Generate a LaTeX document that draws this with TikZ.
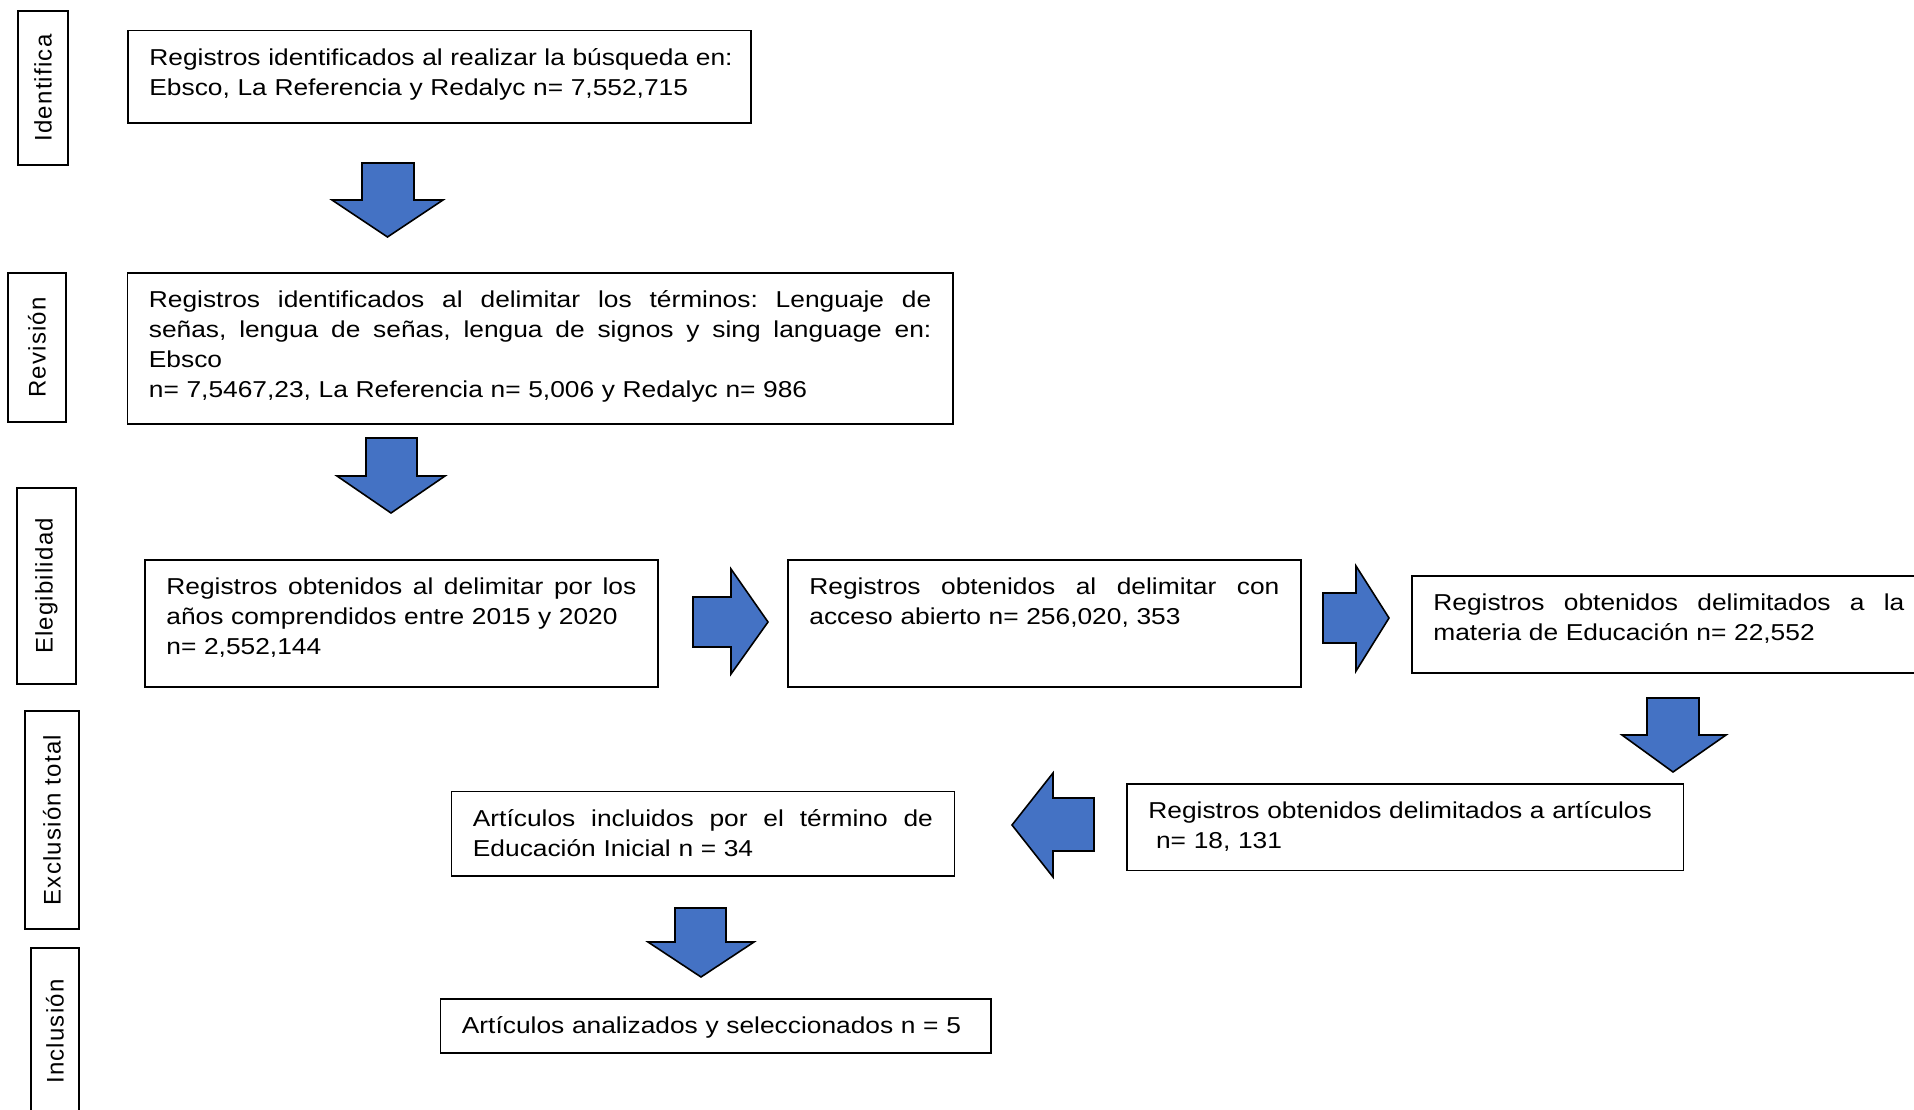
\documentclass[tikz,border=0pt]{standalone}
\usepackage{fontspec}
\setmainfont{Liberation Sans}[FakeStretch=1.145]
\newfontfamily\sidefont{Liberation Sans}[LetterSpace=5]
\definecolor{arrowblue}{HTML}{4472C4}
\frenchspacing
\newcommand{\jline}[1]{{\spaceskip=\fontdimen2\font plus 1fil\relax\xspaceskip=\spaceskip\hbox to \hsize{#1}}\par}
\newcommand{\rline}[1]{\hbox to \hsize{#1\hss}\par}
\tikzset{
  box/.style={draw, line width=1.8pt, anchor=north west, inner xsep=21.5pt, inner ysep=0pt,
    text height=35pt, font=\fontsize{23}{30}\selectfont, align=left},
  sidebox/.style={draw, line width=1.8pt, rotate=90, inner sep=0pt,
    font=\fontsize{24}{28}\selectfont\sidefont},
  blockarrow/.style={fill=arrowblue, draw=black, line width=1.6pt, line join=miter}
}
\begin{document}
\begin{tikzpicture}[x=1pt, y=-1pt]
\useasboundingbox (0,0) rectangle (1914,1109);
\clip (0,0) rectangle (1914,1109);
% side labels
\node[sidebox, minimum width=154pt, minimum height=50pt] (s1) at (43,88) {Identifica};
\node[sidebox, minimum width=149pt, minimum height=58pt] (s2) at (37,347.5) {Revisión};
\node[sidebox, minimum width=196pt, minimum height=59pt] (s3) at (46.5,586) {Elegibilidad};
\node[sidebox, minimum width=218pt, minimum height=54pt] (s4) at (52,820) {Exclusión total};
\node[sidebox, minimum width=167pt, minimum height=48pt] (s5) at (55,1031.5) {Inclusión};
% boxes
\node[box, text width=580pt, text depth=57.5pt] (A) at (127,29.5)
  {\rline{Registros identificados al realizar la búsqueda en:}\rline{Ebsco, La Referencia y Redalyc n= 7,552,715}};
\node[box, text width=782.5pt, text depth=116pt] (B) at (126.5,272)
  {\jline{Registros identificados al delimitar los términos: Lenguaje de}\jline{señas, lengua de señas, lengua de signos y sing language en:}\rline{Ebsco}\rline{n= 7,5467,23, La Referencia n= 5,006 y Redalyc n= 986}};
\node[box, text width=470pt, text depth=92pt] (C) at (144,559)
  {\jline{Registros obtenidos al delimitar por los}\rline{años comprendidos entre 2015 y 2020}\rline{n= 2,552,144}};
\node[box, text width=470pt, text depth=92pt] (D) at (787,559)
  {\jline{Registros obtenidos al delimitar con}\rline{acceso abierto n= 256,020, 353}};
\node[box, text width=471pt, text depth=62pt] (E) at (1411,575)
  {\jline{Registros obtenidos delimitados a la}\rline{materia de Educación n= 22,552}};
\node[box, text width=513.5pt, text depth=51.5pt] (F) at (1126,783)
  {\rline{Registros obtenidos delimitados a artículos}\rline{\ n= 18, 131}};
\node[box, text width=460pt, text depth=49.5pt] (G) at (450.5,790.5)
  {\jline{Artículos incluidos por el término de}\rline{Educación Inicial n = 34}};
\node[box, text width=507.5pt, text depth=19pt] (H) at (439.5,998)
  {\rline{Artículos analizados y seleccionados n = 5}};
% block arrows
\draw[blockarrow] (362,163) -- (414,163) -- (414,200) -- (443,200) -- (387.5,237) -- (332,200) -- (362,200) -- cycle;
\draw[blockarrow] (366,438) -- (417,438) -- (417,476) -- (445,476) -- (391,513) -- (337,476) -- (366,476) -- cycle;
\draw[blockarrow] (693,597) -- (731,597) -- (731,569) -- (768,622) -- (731,674) -- (731,647) -- (693,647) -- cycle;
\draw[blockarrow] (1323,593) -- (1356,593) -- (1356,566) -- (1389,618) -- (1356,671) -- (1356,643) -- (1323,643) -- cycle;
\draw[blockarrow] (1647,698) -- (1699,698) -- (1699,735) -- (1726,735) -- (1673,772) -- (1622,735) -- (1647,735) -- cycle;
\draw[blockarrow] (1094,798) -- (1053,798) -- (1053,773) -- (1012,825) -- (1053,877) -- (1053,851) -- (1094,851) -- cycle;
\draw[blockarrow] (675,908) -- (726,908) -- (726,942) -- (754,942) -- (701,977) -- (648,942) -- (675,942) -- cycle;
\end{tikzpicture}
\end{document}
